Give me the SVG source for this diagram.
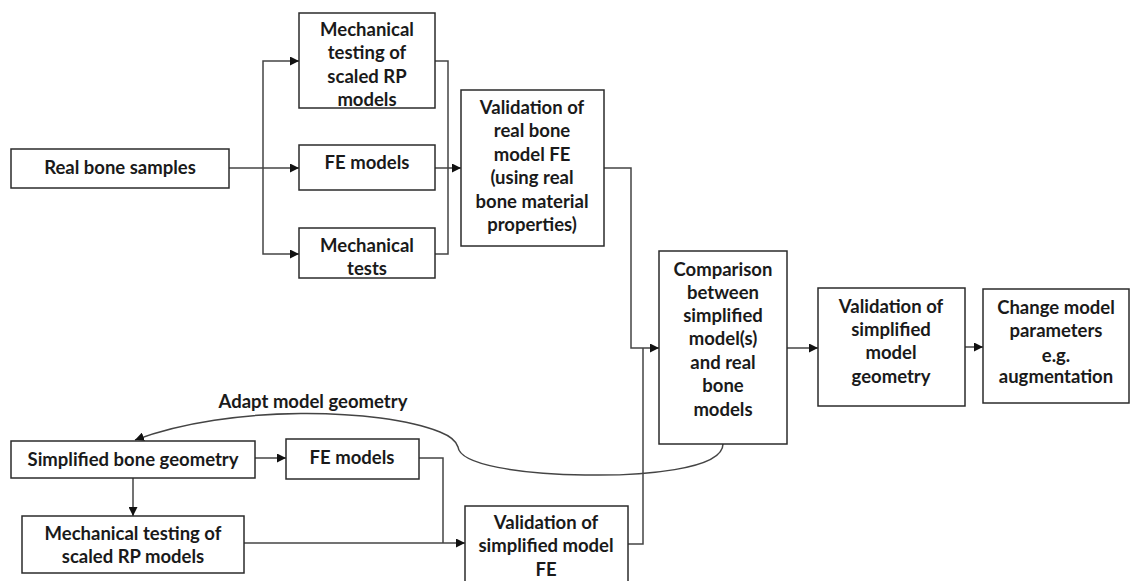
<svg xmlns="http://www.w3.org/2000/svg" width="1131" height="581" viewBox="0 0 1131 581">
  <style>
    .box { fill: #ffffff; stroke: #2b2b2b; stroke-width: 1.5; }
    .lbl { font-family: Lato, "Open Sans", "Liberation Sans", sans-serif; font-weight: bold; font-size: 18.5px; fill: #1a1a1a; text-anchor: middle; }
    .wire { fill: none; stroke: #444444; stroke-width: 1.5; }
  </style>
  <defs>
    <marker id="arrow" viewBox="0 0 10 10" refX="10" refY="5" markerWidth="9" markerHeight="9" markerUnits="userSpaceOnUse" orient="auto">
      <path d="M0,0 L10,5 L0,10 Z" fill="#111111"/>
    </marker>
  </defs>
  <rect width="1131" height="581" fill="#ffffff"/>

  <g id="connectors">
    <!-- real bone samples fan-out -->
    <path class="wire" d="M229,168 H299" marker-end="url(#arrow)"/>
    <path class="wire" d="M263,168 V61 H299" marker-end="url(#arrow)"/>
    <path class="wire" d="M263,168 V254 H299" marker-end="url(#arrow)"/>
    <!-- merge into validation of real bone model -->
    <path class="wire" d="M435,61 H448 V254 H435"/>
    <path class="wire" d="M435,168 H461" marker-end="url(#arrow)"/>
    <!-- validation -> comparison -->
    <path class="wire" d="M604,168 H631 V348 H659" marker-end="url(#arrow)"/>
    <path class="wire" d="M628,544 H643 V348"/>
    <!-- comparison -> validation geometry -> change parameters -->
    <path class="wire" d="M787,348 H818" marker-end="url(#arrow)"/>
    <path class="wire" d="M965,347 H983" marker-end="url(#arrow)"/>
    <!-- simplified branch -->
    <path class="wire" d="M255,458 H286" marker-end="url(#arrow)"/>
    <path class="wire" d="M133,478 V516" marker-end="url(#arrow)"/>
    <path class="wire" d="M244,543 H465" marker-end="url(#arrow)"/>
    <path class="wire" d="M419,458 H443 V543"/>
    <!-- feedback loop -->
    <path class="wire" d="M723,444 C723,470 640,476 585,475 C520,474 460,465 458,447 C456,440 450,436 440,432 C380,408 230,404 135,440" marker-end="url(#arrow)"/>
    <text class="lbl" x="313" y="408">Adapt model geometry</text>
  </g>

  <g id="real-bone-samples">
    <rect class="box" x="11" y="149" width="218" height="39"/>
    <text class="lbl" x="120" y="174">Real bone samples</text>
  </g>

  <g id="mech-testing-rp-top">
    <rect class="box" x="299" y="13" width="136" height="95"/>
    <text class="lbl" x="367" y="36">Mechanical</text>
    <text class="lbl" x="367" y="59">testing of</text>
    <text class="lbl" x="367" y="83">scaled RP</text>
    <text class="lbl" x="367" y="106">models</text>
  </g>

  <g id="fe-models-top">
    <rect class="box" x="299" y="145" width="136" height="45"/>
    <text class="lbl" x="367" y="169">FE models</text>
  </g>

  <g id="mechanical-tests">
    <rect class="box" x="299" y="228" width="136" height="50"/>
    <text class="lbl" x="367" y="252">Mechanical</text>
    <text class="lbl" x="367" y="275">tests</text>
  </g>

  <g id="validation-real-bone">
    <rect class="box" x="461" y="90" width="143" height="156"/>
    <text class="lbl" x="532" y="114">Validation of</text>
    <text class="lbl" x="532" y="137">real bone</text>
    <text class="lbl" x="532" y="161">model FE</text>
    <text class="lbl" x="532" y="184">(using real</text>
    <text class="lbl" x="532" y="208">bone material</text>
    <text class="lbl" x="532" y="231">properties)</text>
  </g>

  <g id="comparison">
    <rect class="box" x="659" y="251" width="128" height="193"/>
    <text class="lbl" x="723" y="276">Comparison</text>
    <text class="lbl" x="723" y="299">between</text>
    <text class="lbl" x="723" y="322">simplified</text>
    <text class="lbl" x="723" y="345">model(s)</text>
    <text class="lbl" x="723" y="369">and real</text>
    <text class="lbl" x="723" y="392">bone</text>
    <text class="lbl" x="723" y="416">models</text>
  </g>

  <g id="validation-simplified-geometry">
    <rect class="box" x="818" y="288" width="147" height="118"/>
    <text class="lbl" x="891" y="313">Validation of</text>
    <text class="lbl" x="891" y="336">simplified</text>
    <text class="lbl" x="891" y="359">model</text>
    <text class="lbl" x="891" y="383">geometry</text>
  </g>

  <g id="change-parameters">
    <rect class="box" x="983" y="289" width="146" height="114"/>
    <text class="lbl" x="1056" y="314">Change model</text>
    <text class="lbl" x="1056" y="337">parameters</text>
    <text class="lbl" x="1056" y="362">e.g.</text>
    <text class="lbl" x="1056" y="383">augmentation</text>
  </g>

  <g id="simplified-bone-geometry">
    <rect class="box" x="11" y="441" width="244" height="37"/>
    <text class="lbl" x="133" y="466">Simplified bone geometry</text>
  </g>

  <g id="fe-models-bottom">
    <rect class="box" x="286" y="439" width="133" height="40"/>
    <text class="lbl" x="352" y="464">FE models</text>
  </g>

  <g id="mech-testing-rp-bottom">
    <rect class="box" x="22" y="516" width="222" height="57"/>
    <text class="lbl" x="133" y="540">Mechanical testing of</text>
    <text class="lbl" x="133" y="563">scaled RP models</text>
  </g>

  <g id="validation-simplified-fe">
    <rect class="box" x="465" y="506" width="163" height="80"/>
    <text class="lbl" x="546" y="529">Validation of</text>
    <text class="lbl" x="546" y="552">simplified model</text>
    <text class="lbl" x="546" y="576">FE</text>
  </g>
</svg>
